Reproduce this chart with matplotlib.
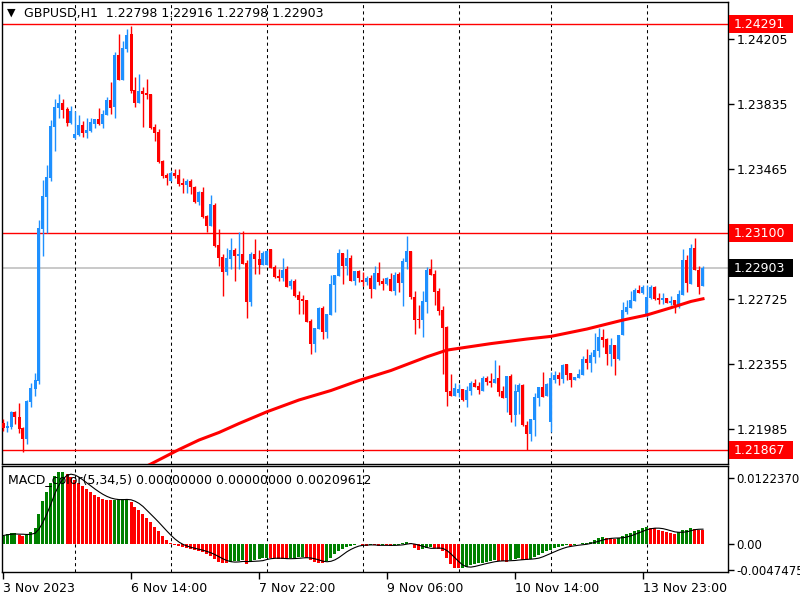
import matplotlib
matplotlib.use('Agg')
import matplotlib.pyplot as plt
import matplotlib.transforms as mtransforms
from matplotlib.patches import Rectangle
import numpy as np
import pandas as pd

# header texts
title_text = 'GBPUSD,H1  1.22798 1.22916 1.22798 1.22903'
macd_text = 'MACD_color(5,34,5) 0.00000000 0.00000000 0.00209612'

# H1 candles
open_ = [1.22020, 1.21995, 1.21999, 1.22082, 1.22055, 1.21995, 1.21932, 1.22142, 1.22216, 1.22260,
         1.23125, 1.23309, 1.23416, 1.23708, 1.23814, 1.23843, 1.23809, 1.23731, 1.23644, 1.23661,
         1.23718, 1.23672, 1.23683, 1.23723, 1.23752, 1.23723, 1.23774, 1.23860, 1.23820, 1.24116,
         1.23974, 1.24150, 1.24235, 1.23917, 1.23843, 1.23911, 1.23900, 1.23894, 1.23706, 1.23678,
         1.23513, 1.23433, 1.23399, 1.23444, 1.23433, 1.23387, 1.23376, 1.23399, 1.23365, 1.23279,
         1.23336, 1.23199, 1.23143, 1.23262, 1.23034, 1.22966, 1.22881, 1.22955, 1.23006, 1.22972,
         1.22983, 1.22932, 1.22710, 1.22983, 1.22955, 1.22921, 1.22921, 1.23012, 1.22909, 1.22858,
         1.22847, 1.22898, 1.22801, 1.22829, 1.22750, 1.22727, 1.22721, 1.22602, 1.22471, 1.22556,
         1.22676, 1.22539, 1.22636, 1.22807, 1.22858, 1.22989, 1.22915, 1.22960, 1.22829, 1.22886,
         1.22835, 1.22824, 1.22847, 1.22784, 1.22875, 1.22829, 1.22812, 1.22841, 1.22773, 1.22869,
         1.22818, 1.22938, 1.23000, 1.22738, 1.22613, 1.22608, 1.22710, 1.22898, 1.22869, 1.22773,
         1.22664, 1.22568, 1.22203, 1.22175, 1.22192, 1.22215, 1.22152, 1.22203, 1.22249, 1.22232,
         1.22203, 1.22277, 1.22260, 1.22249, 1.22277, 1.22203, 1.22164, 1.22289, 1.22067, 1.22198,
         1.22238, 1.22010, 1.21959, 1.22038, 1.22164, 1.22226, 1.22175, 1.22027, 1.22266, 1.22294,
         1.22272, 1.22357, 1.22306, 1.22266, 1.22277, 1.22294, 1.22386, 1.22363, 1.22397, 1.22431,
         1.22511, 1.22499, 1.22414, 1.22465, 1.22386, 1.22522, 1.22653, 1.22676, 1.22716, 1.22778,
         1.22761, 1.22642, 1.22733, 1.22795, 1.22733, 1.22721, 1.22733, 1.22704, 1.22721, 1.22682,
         1.22750, 1.22949, 1.22812, 1.23017, 1.22892, 1.22798]
high = [1.22044, 1.22034, 1.22090, 1.22088, 1.22137, 1.22000, 1.22152, 1.22251, 1.22304, 1.23177,
        1.23404, 1.23490, 1.23746, 1.23866, 1.23894, 1.23866, 1.23820, 1.23826, 1.23797, 1.23774,
        1.23740, 1.23757, 1.23757, 1.23752, 1.23814, 1.23803, 1.23877, 1.23962, 1.24133, 1.24235,
        1.24196, 1.24264, 1.24281, 1.23991, 1.24008, 1.23934, 1.23979, 1.23894, 1.23723, 1.23695,
        1.23518, 1.23444, 1.23456, 1.23467, 1.23467, 1.23416, 1.23410, 1.23410, 1.23370, 1.23342,
        1.23365, 1.23205, 1.23319, 1.23273, 1.23125, 1.22983, 1.23017, 1.23074, 1.23017, 1.23108,
        1.23114, 1.22949, 1.22995, 1.23069, 1.23006, 1.23000, 1.23006, 1.23012, 1.22921, 1.22898,
        1.22960, 1.22915, 1.22841, 1.22841, 1.22773, 1.22750, 1.22721, 1.22613, 1.22562, 1.22682,
        1.22687, 1.22642, 1.22864, 1.22864, 1.23012, 1.22989, 1.23012, 1.22977, 1.22886, 1.22892,
        1.22881, 1.22858, 1.22864, 1.22915, 1.22938, 1.22847, 1.22852, 1.22875, 1.22881, 1.22881,
        1.22960, 1.23086, 1.23000, 1.22773, 1.22693, 1.22773, 1.22909, 1.22955, 1.22892, 1.22790,
        1.22687, 1.22573, 1.22300, 1.22249, 1.22243, 1.22215, 1.22232, 1.22260, 1.22272, 1.22255,
        1.22289, 1.22289, 1.22306, 1.22380, 1.22351, 1.22232, 1.22289, 1.22300, 1.22243, 1.22249,
        1.22243, 1.22033, 1.22044, 1.22192, 1.22226, 1.22312, 1.22249, 1.22312, 1.22317, 1.22312,
        1.22357, 1.22357, 1.22306, 1.22283, 1.22329, 1.22403, 1.22443, 1.22425, 1.22534, 1.22562,
        1.22556, 1.22505, 1.22505, 1.22465, 1.22522, 1.22710, 1.22721, 1.22773, 1.22790, 1.22807,
        1.22807, 1.22807, 1.22807, 1.22801, 1.22761, 1.22761, 1.22733, 1.22744, 1.22721, 1.22778,
        1.23012, 1.22977, 1.23040, 1.23074, 1.22915, 1.22916]
low = [1.21977, 1.21972, 1.21989, 1.22016, 1.21966, 1.21858, 1.21902, 1.22112, 1.22175, 1.22243,
       1.22974, 1.23101, 1.23400, 1.23570, 1.23759, 1.23759, 1.23714, 1.23725, 1.23638, 1.23655,
       1.23649, 1.23644, 1.23678, 1.23700, 1.23718, 1.23700, 1.23774, 1.23780, 1.23757, 1.23974,
       1.23974, 1.24133, 1.23900, 1.23820, 1.23843, 1.23706, 1.23866, 1.23695, 1.23626, 1.23501,
       1.23416, 1.23376, 1.23399, 1.23416, 1.23370, 1.23330, 1.23330, 1.23325, 1.23273, 1.23262,
       1.23188, 1.23108, 1.23143, 1.23023, 1.22915, 1.22744, 1.22864, 1.22898, 1.22829, 1.22898,
       1.22926, 1.22619, 1.22687, 1.22869, 1.22869, 1.22921, 1.22921, 1.22903, 1.22847, 1.22829,
       1.22829, 1.22795, 1.22784, 1.22738, 1.22643, 1.22643, 1.22596, 1.22414, 1.22425, 1.22556,
       1.22499, 1.22505, 1.22636, 1.22653, 1.22858, 1.22812, 1.22864, 1.22829, 1.22807, 1.22824,
       1.22801, 1.22807, 1.22733, 1.22784, 1.22807, 1.22778, 1.22807, 1.22773, 1.22750, 1.22767,
       1.22687, 1.22898, 1.22727, 1.22528, 1.22562, 1.22511, 1.22647, 1.22864, 1.22693, 1.22636,
       1.22300, 1.22118, 1.22175, 1.22175, 1.22169, 1.22146, 1.22112, 1.22181, 1.22226, 1.22186,
       1.22203, 1.22238, 1.22226, 1.22249, 1.22175, 1.22164, 1.22084, 1.22027, 1.22004, 1.22073,
       1.22004, 1.21868, 1.21919, 1.21947, 1.22118, 1.22169, 1.22175, 1.21972, 1.22249, 1.22238,
       1.22249, 1.22266, 1.22226, 1.22266, 1.22277, 1.22294, 1.22329, 1.22312, 1.22363, 1.22397,
       1.22454, 1.22351, 1.22346, 1.22294, 1.22380, 1.22522, 1.22642, 1.22676, 1.22716, 1.22761,
       1.22756, 1.22625, 1.22727, 1.22721, 1.22699, 1.22699, 1.22704, 1.22693, 1.22647, 1.22676,
       1.22750, 1.22767, 1.22812, 1.22892, 1.22756, 1.22798]
close = [1.21991, 1.22006, 1.22084, 1.22054, 1.21989, 1.21932, 1.22148, 1.22220, 1.22266, 1.23129,
         1.23313, 1.23420, 1.23712, 1.23820, 1.23843, 1.23805, 1.23731, 1.23797, 1.23666, 1.23718,
         1.23672, 1.23689, 1.23735, 1.23752, 1.23723, 1.23780, 1.23860, 1.23814, 1.24116, 1.23974,
         1.24156, 1.24230, 1.23911, 1.23843, 1.23911, 1.23894, 1.23888, 1.23700, 1.23672, 1.23507,
         1.23427, 1.23416, 1.23444, 1.23427, 1.23382, 1.23376, 1.23399, 1.23365, 1.23279, 1.23336,
         1.23194, 1.23143, 1.23268, 1.23029, 1.22960, 1.22881, 1.22960, 1.23006, 1.22972, 1.22983,
         1.22926, 1.22710, 1.22983, 1.22955, 1.22921, 1.22989, 1.23000, 1.22903, 1.22852, 1.22847,
         1.22892, 1.22795, 1.22829, 1.22744, 1.22721, 1.22717, 1.22596, 1.22471, 1.22562, 1.22676,
         1.22539, 1.22642, 1.22812, 1.22864, 1.22989, 1.22915, 1.22960, 1.22829, 1.22886, 1.22847,
         1.22824, 1.22847, 1.22784, 1.22875, 1.22824, 1.22812, 1.22847, 1.22773, 1.22864, 1.22818,
         1.22943, 1.23000, 1.22738, 1.22608, 1.22608, 1.22716, 1.22892, 1.22864, 1.22767, 1.22659,
         1.22562, 1.22198, 1.22175, 1.22220, 1.22215, 1.22152, 1.22209, 1.22249, 1.22226, 1.22209,
         1.22277, 1.22255, 1.22249, 1.22272, 1.22198, 1.22164, 1.22289, 1.22067, 1.22203, 1.22238,
         1.22010, 1.21959, 1.22044, 1.22169, 1.22226, 1.22169, 1.22243, 1.22277, 1.22294, 1.22272,
         1.22351, 1.22294, 1.22266, 1.22283, 1.22300, 1.22386, 1.22363, 1.22408, 1.22437, 1.22511,
         1.22494, 1.22414, 1.22465, 1.22386, 1.22522, 1.22664, 1.22682, 1.22721, 1.22778, 1.22761,
         1.22795, 1.22738, 1.22795, 1.22727, 1.22721, 1.22733, 1.22704, 1.22716, 1.22693, 1.22756,
         1.22949, 1.22818, 1.23017, 1.22892, 1.22795, 1.22903]

# moving average (read at some bars)
ma_bar = [30, 37, 44, 49, 54, 59, 66, 74, 82, 89, 97, 106, 111, 114, 122, 131, 137, 146, 155,
          161, 167, 172, 175]
ma_val = [1.21708, 1.21788, 1.21870, 1.21924, 1.21967, 1.22018, 1.22085, 1.22152, 1.22206,
          1.22263, 1.22320, 1.22398, 1.22436, 1.22446, 1.22473, 1.22499, 1.22514, 1.22556,
          1.22607, 1.22636, 1.22677, 1.22713, 1.22728]

# MACD histogram
macd_hist = [0.00161, 0.00192, 0.00204, 0.00210, 0.00173, 0.00155, 0.00167, 0.00229, 0.00297, 0.00556,
             0.00803, 0.00964, 0.01131, 0.01273, 0.01335, 0.01347, 0.01304, 0.01242, 0.01193, 0.01143,
             0.01082, 0.01020, 0.00964, 0.00915, 0.00884, 0.00847, 0.00828, 0.00816, 0.00822, 0.00834,
             0.00840, 0.00847, 0.00785, 0.00692, 0.00630, 0.00556, 0.00482, 0.00408, 0.00328, 0.00247,
             0.00155, 0.00080, 0.00025, -0.00019, -0.00037, -0.00056, -0.00074, -0.00093, -0.00111, -0.00124,
             -0.00148, -0.00185, -0.00222, -0.00278, -0.00321, -0.00340, -0.00346, -0.00328, -0.00315, -0.00303,
             -0.00297, -0.00358, -0.00321, -0.00297, -0.00278, -0.00260, -0.00247, -0.00253, -0.00260, -0.00266,
             -0.00272, -0.00278, -0.00260, -0.00247, -0.00241, -0.00235, -0.00260, -0.00290, -0.00321, -0.00346,
             -0.00352, -0.00309, -0.00247, -0.00185, -0.00130, -0.00080, -0.00043, -0.00031, -0.00012, 0.00006,
             -0.00012, -0.00025, -0.00012, -0.00019, -0.00025, -0.00012, -0.00019, -0.00025, -0.00019, -0.00006,
             0.00019, 0.00049, 0.00025, -0.00074, -0.00105, -0.00080, -0.00062, -0.00056, -0.00068, -0.00080,
             -0.00117, -0.00260, -0.00365, -0.00433, -0.00445, -0.00433, -0.00414, -0.00389, -0.00371, -0.00352,
             -0.00340, -0.00321, -0.00309, -0.00290, -0.00303, -0.00315, -0.00321, -0.00290, -0.00272, -0.00260,
             -0.00284, -0.00290, -0.00272, -0.00235, -0.00198, -0.00161, -0.00130, -0.00105, -0.00074, -0.00049,
             -0.00025, -0.00012, -0.00031, -0.00019, 0.00006, 0.00019, 0.00031, 0.00049, 0.00080, 0.00111,
             0.00130, 0.00117, 0.00111, 0.00105, 0.00124, 0.00155, 0.00185, 0.00216, 0.00247, 0.00272,
             0.00297, 0.00321, 0.00309, 0.00297, 0.00272, 0.00253, 0.00229, 0.00204, 0.00192, 0.00235,
             0.00260, 0.00272, 0.00303, 0.00290, 0.00272, 0.00266]

price_ticks = [1.24205, 1.23835, 1.23465, 1.22725, 1.22355, 1.21985]
level_lines = [1.24291, 1.23100, 1.21867]
bid_price = 1.22903
macd_ticks = [0.0122370, 0.0, -0.0047475]
macd_tick_labels = ['0.0122370', '0.00', '-0.0047475']
time_ticks = [0, 32, 64, 96, 128, 160]
time_labels = ['3 Nov 2023', '6 Nov 14:00', '7 Nov 22:00', '9 Nov 06:00', '10 Nov 14:00', '13 Nov 23:00']
day_lines = [18, 42, 66, 90, 114, 137, 161]

UP = '#1E90FF'
DOWN = '#FF0000'
W, H = 800, 600

fig = plt.figure(figsize=(8, 6), dpi=100)
ax1 = fig.add_axes([2 / W, 1 - 464 / H, 726 / W, 462 / H])
ax2 = fig.add_axes([2 / W, 1 - 572 / H, 726 / W, 106 / H])

o = np.array(open_)
c = np.array(close)
x = np.arange(len(o))
cols = np.where(c >= o, UP, DOWN)

ylo, yhi = 1.217876, 1.244173
px = (yhi - ylo) / 462  # price per pixel

# candles
ax1.vlines(x, low, high, colors=cols, lw=1.0, zorder=3)
ax1.bar(x, np.maximum(np.abs(c - o), px), bottom=np.minimum(o, c), width=0.75,
        color=cols, lw=0, zorder=3)
ax1.plot(ma_bar, ma_val, color='#FF0000', lw=2.2, zorder=4)

for lv in level_lines:
    ax1.axhline(lv, color='#FF0000', lw=1.0, zorder=2)
ax1.axhline(bid_price, color='#C0C0C0', lw=1.2, zorder=1)

for ax in (ax1, ax2):
    for b in day_lines:
        ax.axvline(b, color='black', lw=0.75, ls=(0, (3, 3)), zorder=1)
    ax.set_xlim(-0.25, 181.25)
    for s in ax.spines.values():
        s.set_linewidth(1.0)
        s.set_color('black')

ax1.set_ylim(ylo, yhi)
ax1.set_xticks([])
ax1.yaxis.tick_right()
ax1.set_yticks(price_ticks)
ax1.set_yticklabels(['%.5f' % v for v in price_ticks])
ax1.tick_params(axis='y', length=4, width=1, pad=2, labelsize=9)

# price tags on the right
tr = mtransforms.blended_transform_factory(ax1.transAxes, ax1.transData)
tags = [(v, '#FF0000') for v in level_lines] + [(bid_price, 'black')]
for v, col in tags:
    ax1.add_patch(Rectangle((1 + 1 / 726, v - 9 * px), 64 / 726, 18 * px, transform=tr,
                            fc=col, ec='none', clip_on=False, zorder=8))
    ax1.text(1 + 6 / 726, v, '%.5f' % v, transform=tr, color='white', fontsize=9,
             va='center', ha='left', clip_on=False, zorder=9)

# MACD window
h = np.array(macd_hist)
hcols = ['#008000'] + ['#008000' if h[i] >= h[i - 1] else '#FF0000' for i in range(1, len(h))]
signal = pd.Series(h).rolling(5, min_periods=1).mean()
ax2.bar(x, h, width=0.75, color=hcols, lw=0, zorder=2)
ax2.plot(x, signal, color='black', lw=0.8, zorder=3)
ax2.set_ylim(-0.005136, 0.014519)
ax2.yaxis.tick_right()
ax2.set_yticks(macd_ticks)
ax2.set_yticklabels(macd_tick_labels)
ax2.tick_params(axis='y', length=4, width=1, pad=2, labelsize=8.5)
ax2.set_xticks(time_ticks)
ax2.set_xticklabels(time_labels, ha='left')
ax2.tick_params(axis='x', length=5, width=1, pad=2, labelsize=9)
ax2.text(6 / 726, 1 - 14 / 106, macd_text, transform=ax2.transAxes, fontsize=9,
         va='center', ha='left', zorder=5)

# chart header
fig.text(7 / W, 1 - 13 / H, '\u25BC', fontsize=8, va='center', ha='left')
fig.text(24 / W, 1 - 14 / H, title_text, fontsize=9, va='center', ha='left')

fig.savefig('out.png', dpi=100)
